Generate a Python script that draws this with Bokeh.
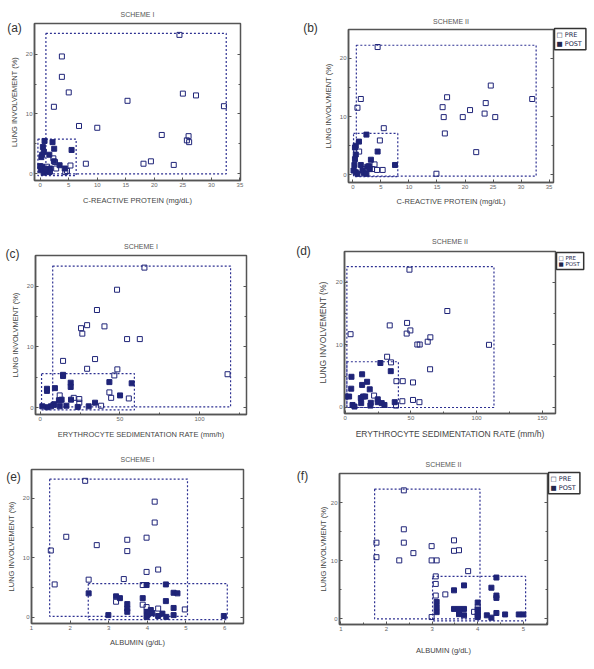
from bokeh.plotting import figure
from bokeh.layouts import column, row
from bokeh.models import Range1d, Label, LinearAxis, FixedTicker, CustomJSTickFormatter
from bokeh.embed import file_html
from bokeh.resources import INLINE

# ---------------- data ----------------
# (a) Scheme I, CRP
a_pre_x = [24.4, 3.8, 3.8, 5.0, 2.4, 15.3, 25.0, 27.3, 32.2, 6.8, 10.0, 21.3, 26.0, 25.7, 26.1, 8.0, 18.1, 19.4, 23.4, 2.3, 2.6, 5.3, 2.8, 4.7, 1.2, 0.6, 4.4, 1.7]
a_pre_y = [23.2, 19.6, 16.2, 13.6, 11.2, 12.2, 13.4, 13.1, 11.3, 8.0, 7.7, 6.5, 6.3, 5.6, 5.3, 1.7, 1.7, 2.1, 1.5, 2.6, 2.0, 1.4, 0.9, 0.5, 1.2, 0.7, 0.3, 0.4]
a_post_x = [0.76, 2.16, 2.45, 5.5, 0.47, 0.64, 0.35, 1.6, 3.4, 2.4, 0.0, 0.1, 0.6, 1.2, 1.6, 1.75, 0.3, 4.3, 0.9, 0.2]
a_post_y = [5.5, 5.3, 4.2, 4.0, 4.5, 3.7, 3.2, 3.2, 1.45, 2.1, 1.3, 0.6, 0.2, 0.5, 0.3, 0.9, 1.2, 0.9, 0.8, 2.8]
a_pre_box = [1.0, 32.6, 0.0, 23.45]
a_post_box = [-0.4, 6.3, -0.3, 5.8]

# (b) Scheme II, CRP
b_pre_x = [4.4, 1.4, 0.8, 5.5, 1.1, 4.8, 3.85, 4.3, 5.3, 3.4, 2.1, 14.9, 16.0, 16.2, 16.8, 16.4, 19.6, 20.9, 22.0, 23.5, 23.7, 24.6, 25.4, 32.0]
b_pre_y = [21.9, 13.0, 11.5, 8.0, 4.0, 5.9, 1.8, 0.85, 0.85, 1.0, 1.0, 0.2, 11.6, 9.9, 13.3, 7.1, 9.9, 11.1, 3.9, 10.5, 12.3, 15.3, 9.9, 13.0]
b_post_x = [0.5, 0.35, 1.07, 2.4, 4.4, 3.2, 0.5, 0.35, 0.25, 1.4, 2.55, 2.85, 3.0, 7.5, 0.5, 0.8, 1.7, 1.95, 0.1, 2.4]
b_post_y = [5.0, 4.7, 5.7, 6.9, 4.0, 2.6, 3.5, 2.7, 1.7, 1.7, 1.4, 1.5, 1.0, 1.7, 0.45, 0.2, 0.75, 0.35, 0.75, 0.2]
b_pre_box = [0.6, 32.7, -0.2, 22.2]
b_post_box = [0.1, 8.0, -0.3, 7.1]

# (c) Scheme I, ESR
c_pre_x = [65.4, 48.2, 35.6, 29.4, 25.6, 26.4, 40.3, 54.5, 62.5, 14.3, 34.4, 29.4, 48.4, 46.5, 117.6, 12.2, 21.0, 24.5, 24.5, 43.4, 44.5, 55.6, 38.2, 12.6]
c_pre_y = [23.1, 19.45, 16.1, 13.6, 13.1, 12.2, 13.4, 11.3, 11.3, 7.7, 8.0, 6.4, 6.3, 5.3, 5.5, 2.0, 1.6, 1.4, 0.8, 2.5, 1.6, 1.5, 0.3, 1.15]
c_post_x = [14.3, 14.3, 4.2, 4.2, 9.2, 19.1, 19.1, 43.4, 57.4, 50.1, 13.4, 11.7, 19.3, 8.8, 8.2, 6.7, 4.4, 1.3, 12.2, 16.4, 23.5, 30.4, 34.4]
c_post_y = [5.4, 5.2, 3.1, 2.75, 3.2, 4.1, 3.4, 4.2, 4.0, 2.0, 1.3, 1.2, 1.3, 0.55, 0.4, 0.2, 0.05, 0.2, 0.2, 0.3, 0.1, 0.2, 0.8]
c_pre_box = [7.8, 119.5, 0.1, 23.35]
c_post_box = [0.8, 59.1, -0.4, 5.6]

# (d) Scheme II, ESR
d_pre_x = [48.9, 77.7, 33.9, 47.1, 46.8, 49.6, 4.1, 54.9, 56.7, 62.8, 64.8, 109.4, 31.9, 34.9, 64.6, 39.0, 43.8, 51.6, 22.0, 43.5, 51.6, 56.5, 38.7]
d_pre_y = [22.0, 15.4, 13.1, 13.5, 11.8, 12.3, 11.7, 10.05, 10.05, 10.5, 11.2, 10.0, 8.1, 7.2, 6.1, 4.2, 4.2, 4.0, 1.9, 1.0, 1.2, 0.85, 0.3]
d_post_x = [26.8, 34.7, 4.8, 12.9, 16.7, 12.9, 4.6, 18.7, 0.5, 3.0, 11.9, 13.7, 15.2, 24.8, 24.8, 12.2, 5.6, 7.1, 19.2, 27.8, 29.9, 37.7, 19.5]
d_post_y = [7.1, 5.8, 4.9, 5.3, 4.1, 3.6, 3.0, 2.9, 1.75, 1.75, 1.5, 1.75, 1.75, 1.3, 0.85, 0.7, 0.4, 0.15, 0.3, 0.7, 0.4, 0.85, 0.75]
d_pre_box = [1.3, 113.2, 0.0, 22.5]
d_post_box = [1.3, 40.5, 0.0, 7.3]

# (e) Scheme I, albumin
e_pre_x = [2.39, 4.19, 4.19, 1.9, 3.48, 3.98, 1.5, 2.69, 3.48, 3.98, 4.28, 1.6, 2.48, 3.39, 3.88, 3.19, 3.88, 3.98, 4.28, 4.97]
e_pre_y = [22.9, 19.4, 15.9, 13.5, 13.0, 13.35, 11.2, 12.1, 11.1, 7.6, 8.0, 5.5, 6.3, 6.4, 5.4, 2.6, 2.1, 1.7, 1.45, 1.3]
e_post_x = [2.48, 3.19, 3.29, 3.88, 3.48, 3.48, 3.48, 3.98, 4.48, 4.68, 4.78, 4.48, 4.68, 2.99, 3.98, 4.0, 4.09, 4.04, 3.98, 4.28, 4.39, 4.49, 4.68, 5.98, 4.13]
e_post_y = [4.0, 3.5, 3.2, 3.2, 2.2, 1.45, 0.9, 5.4, 5.5, 4.1, 4.0, 2.7, 1.55, 0.35, 0.9, 0.35, 1.2, 0.6, 0.05, 0.2, 0.6, 0.05, 0.35, 0.2, 0.7]
e_pre_box = [1.47, 5.04, 0.15, 23.2]
e_post_box = [2.47, 6.07, -0.4, 5.65]

# (f) Scheme II, albumin
f_pre_x = [2.38, 2.38, 1.78, 2.38, 1.78, 2.28, 2.59, 2.99, 2.99, 3.1, 3.48, 3.48, 3.59, 3.79, 3.08, 3.08, 3.29, 2.99, 3.92, 4.0, 3.08]
f_pre_y = [22.1, 15.4, 13.1, 13.1, 10.6, 10.05, 11.3, 12.5, 10.05, 10.05, 13.5, 11.7, 11.8, 8.2, 6.0, 4.0, 4.2, 0.3, 1.2, 2.0, 7.3]
f_post_x = [3.48, 3.7, 4.41, 4.3, 4.41, 4.41, 3.1, 3.1, 3.1, 3.48, 3.59, 3.7, 4.0, 4.0, 4.0, 4.0, 4.0, 3.59, 3.7, 4.2, 4.3, 4.41, 4.6, 4.9, 5.0]
f_post_y = [4.9, 5.75, 7.1, 5.35, 4.0, 3.6, 2.9, 2.0, 1.15, 1.7, 1.7, 1.7, 2.8, 1.6, 1.15, 0.6, 0.3, 0.8, 0.6, 0.6, 0.2, 1.0, 0.75, 0.75, 0.75]
f_pre_box = [1.74, 4.05, 0.0, 22.3]
f_post_box = [3.01, 5.05, -0.35, 7.3]

crp_ticks = [0, 5, 10, 15, 20, 25, 30, 35]
esr_ticks_c = [0, 50, 100]
esr_ticks_d = [0, 50, 100, 150]
esr_minor = [25, 75, 125]
alb_ticks_e = [1, 2, 3, 4, 5, 6]
alb_ticks_f = [1, 2, 3, 4, 5]
alb_minor_f = [1.5, 2.5, 3.5, 4.5, 5.5]
y_ticks = [0, 10, 20]
y_minor = [5, 15]
legend_labels = ["PRE", "POST"]

# ---------------- style ----------------
NAVY = "#1f2478"
BOXC = "#2e3192"
FRAME = "#555555"
TXT = "#444444"
FONT = "Liberation Sans"
TAG_H = 15  # approx. height of the tag text panel


def panel(w, h, bl, br, bt, bb, xr, yr, xt, xmin, pre_x, pre_y, post_x, post_y,
          pre_box, post_box, title, tag, tag_dx, tag_dy, title_dy, xlab, ylab,
          xl_st, yl_st, legend=None, lab_size="7.5px", tick_size="6px"):
    fw = w - bl - br
    fh = h - bt - bb
    p = figure(frame_width=fw, frame_height=fh, x_range=Range1d(*xr), y_range=Range1d(*yr),
               output_backend="svg", toolbar_location=None,
               min_border_left=bl, min_border_right=br, min_border_top=bt, min_border_bottom=bb,
               x_axis_label=xlab, y_axis_label=ylab)
    try:
        p.frame_align = False
    except Exception:
        pass
    p.grid.visible = False
    p.outline_line_color = FRAME
    p.outline_line_width = 1.5
    for ax in (p.xaxis[0], p.yaxis[0]):
        ax.axis_line_color = FRAME
        ax.axis_line_width = 1.5
        ax.major_tick_in = 3
        ax.major_tick_out = 0
        ax.minor_tick_in = 2
        ax.minor_tick_out = 0
        ax.major_tick_line_color = FRAME
        ax.minor_tick_line_color = FRAME
        ax.major_label_text_font = FONT
        ax.major_label_text_font_size = tick_size
        ax.major_label_text_color = "#666666"
        ax.major_label_standoff = 2
        ax.axis_label_text_font = FONT
        ax.axis_label_text_font_style = "normal"
        ax.axis_label_text_font_size = lab_size
        ax.axis_label_text_color = TXT
    p.xaxis[0].axis_label_standoff = xl_st
    p.yaxis[0].axis_label_standoff = yl_st
    p.xaxis[0].ticker = FixedTicker(ticks=xt, minor_ticks=xmin)
    p.yaxis[0].ticker = FixedTicker(ticks=y_ticks, minor_ticks=y_minor)

    # mirrored tick marks on the right
    ax2 = LinearAxis(ticker=FixedTicker(ticks=y_ticks, minor_ticks=y_minor),
                     formatter=CustomJSTickFormatter(code="return ''"),
                     axis_line_color=None, major_tick_in=3, major_tick_out=0,
                     minor_tick_in=2, minor_tick_out=0,
                     major_tick_line_color=FRAME, minor_tick_line_color=FRAME,
                     major_label_standoff=0, major_label_text_font_size="1px")
    p.add_layout(ax2, "right")

    tag_kw = dict(x_units="screen", y_units="screen", text=tag, text_align="center",
                  text_baseline="middle", text_font=FONT, text_font_size="12px",
                  text_color="#333333")
    title_kw = dict(x=fw / 2, x_units="screen", y_units="screen", text=title,
                    text_align="center", text_baseline="middle", text_font=FONT,
                    text_font_size="7px", text_color="#555555")
    if legend is None:
        # title above the frame, tag in the (roomy) right border
        p.add_layout(Label(y=title_dy, **title_kw), "above")
        p.add_layout(Label(x=tag_dx - fw, y=fh + tag_dy, **tag_kw), "right")
    else:
        p.add_layout(Label(x=tag_dx, y=tag_dy, **tag_kw), "above")
        p.add_layout(Label(y=title_dy - TAG_H, **title_kw), "above")

    p.quad(left=[pre_box[0]], right=[pre_box[1]], bottom=[pre_box[2]], top=[pre_box[3]],
           fill_alpha=0, line_color=BOXC, line_dash="2 2", line_width=1.2)
    p.quad(left=[post_box[0]], right=[post_box[1]], bottom=[post_box[2]], top=[post_box[3]],
           fill_alpha=0, line_color=BOXC, line_dash="2 2", line_width=1.2)
    p.scatter(pre_x, pre_y, marker="square", size=5, fill_alpha=0,
              line_color=NAVY, line_width=1)
    p.scatter(post_x, post_y, marker="square", size=5, fill_color=NAVY,
              line_color=NAVY, line_width=1)

    if legend is not None:
        fsz, ldy = legend
        txt = "\u25a1  " + legend_labels[0] + "\n\u25a0  " + legend_labels[1]
        p.add_layout(Label(x=1, y=fh + ldy, x_units="screen", y_units="screen",
                           text=txt, text_align="left", text_baseline="top",
                           text_font="DejaVu Sans", text_font_size=fsz,
                           text_color="#22264a", text_line_height=1.15,
                           border_line_color="#333333", border_line_width=1.5,
                           background_fill_color="white", padding=2), "right")
    return p


pa = panel(295, 215, 34, 55, 23, 35, (-1.0, 35.1), (-1.1, 25.1), crp_ticks, [],
           a_pre_x, a_pre_y, a_post_x, a_post_y, a_pre_box, a_post_box,
           "SCHEME I", "(a)", -20, -4.7, 9.3,
           "C-REACTIVE PROTEIN (mg/dL)", "LUNG INVOLVEMENT (%)", 6, 4)
pb = panel(298, 215, 53, 40, 29, 33, (-0.8, 35.8), (-1.3, 24.9), crp_ticks, [],
           b_pre_x, b_pre_y, b_post_x, b_post_y, b_pre_box, b_post_box,
           "SCHEME II", "(b)", -38, 2, 9.3,
           "C-REACTIVE PROTEIN (mg/dL)", "LUNG INVOLVMENT (%)", 5, 4,
           legend=("6.5px", 1))
pc = panel(295, 232, 35, 49, 40, 33, (-3.0, 129.5), (-1.15, 25.1), esr_ticks_c, esr_minor,
           c_pre_x, c_pre_y, c_post_x, c_post_y, c_pre_box, c_post_box,
           "SCHEME I", "(c)", -23, 2, 9.3,
           "ERYTHROCYTE SEDIMENTATION RATE (mm/h)", "LUNG INVOLVMENT (%)", 6, 4)
pd_ = panel(298, 232, 49, 38, 36, 34, (-0.5, 160.0), (-0.96, 24.9), esr_ticks_d, esr_minor,
            d_pre_x, d_pre_y, d_post_x, d_post_y, d_pre_box, d_post_box,
            "SCHEME II", "(d)", -41, 0.7, 10.7,
            "ERYTHROCYTE SEDIMENTATION RATE (mm/h)", "LUNG INVOLVEMENT (%)", 6, 5,
            legend=("5.5px", -1), lab_size="8.5px", tick_size="6px")
pe = panel(295, 221, 31, 52, 22, 45, (1.0, 6.49), (-1.06, 24.8), alb_ticks_e, [],
           e_pre_x, e_pre_y, e_post_x, e_post_y, e_pre_box, e_post_box,
           "SCHEME I", "(e)", -18, -7.7, 10,
           "ALBUMIN (g/dL)", "LUNG INVOLVEMENT (%)", 5, 4)
pf = panel(298, 221, 44, 46, 26, 44, (0.97, 5.53), (-0.98, 25.0), alb_ticks_f, alb_minor_f,
           f_pre_x, f_pre_y, f_post_x, f_post_y, f_pre_box, f_post_box,
           "SCHEME II", "(f)", -37, -2.7, 10,
           "ALBUMIN (g/dL)", "LUNG INVOLVMENT (%)", 12, 0,
           legend=("6.5px", 1))

layout = column(row(pa, pb), row(pc, pd_), row(pe, pf))
open("out.html", "w").write(file_html(layout, INLINE))
